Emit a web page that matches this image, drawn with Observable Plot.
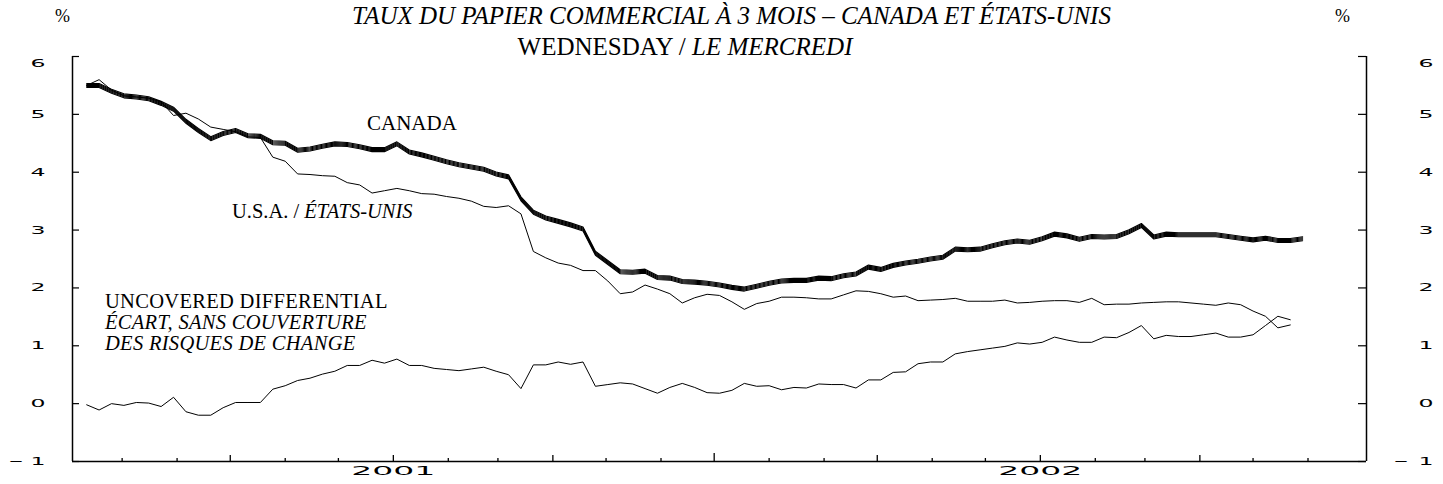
<!DOCTYPE html>
<html><head><meta charset="utf-8">
<script src="https://cdn.jsdelivr.net/npm/d3@7"></script>
<script src="https://cdn.jsdelivr.net/npm/@observablehq/plot@0.6"></script>
<style>
body{margin:0;background:#fff;}
#wrap{position:relative;width:1443px;height:484px;font-family:"Liberation Serif","Times New Roman",serif;color:#000;overflow:hidden;}
#wrap svg{position:absolute;left:0;top:0;}
.t{position:absolute;white-space:nowrap;line-height:1;}
</style></head><body>
<div id="wrap">
<div class="t" style="left:55px;top:7px;font-size:18px">%</div>
<div class="t" style="left:1335px;top:7px;font-size:18px">%</div>
<div class="t" style="left:731.5px;top:3px;font-size:25px;font-style:italic;transform:translateX(-50%)">TAUX DU PAPIER COMMERCIAL À 3 MOIS – CANADA ET ÉTATS-UNIS</div>
<div class="t" style="left:685px;top:34px;font-size:25px;transform:translateX(-50%)">WEDNESDAY / <i>LE MERCREDI</i></div>
<div class="t" style="left:367px;top:113px;font-size:21px">CANADA</div>
<div class="t" style="left:232px;top:201px;font-size:20.5px">U.S.A. / <i>ÉTATS-UNIS</i></div>
<div class="t" style="left:105px;top:291px;font-size:20.5px;letter-spacing:0.3px">UNCOVERED DIFFERENTIAL</div>
<div class="t" style="left:105px;top:312px;font-size:20.5px;letter-spacing:0.3px;font-style:italic">ÉCART, SANS COUVERTURE</div>
<div class="t" style="left:105px;top:333px;font-size:20.5px;letter-spacing:0.3px;font-style:italic">DES RISQUES DE CHANGE</div>
</div>
<script>
// Weekly (Wednesday) observations, first and last week
const firstWeek = "2000-07-12";
const lastWeek = "2002-05-29";

// Canada 3-month commercial paper rate (%)
const canada = [
 5.50,5.50,5.40,5.32,5.30,5.27,5.19,5.09,4.88,4.72,
 4.58,4.67,4.72,4.63,4.62,4.51,4.50,4.38,4.40,4.45,
 4.49,4.48,4.44,4.39,4.39,4.49,4.35,4.30,4.24,4.18,
 4.13,4.09,4.05,3.97,3.92,3.54,3.31,3.21,3.15,3.09,
 3.02,2.60,2.44,2.28,2.27,2.29,2.18,2.17,2.11,2.10,
 2.08,2.05,2.01,1.98,2.03,2.08,2.12,2.13,2.13,2.17,
 2.16,2.21,2.24,2.36,2.32,2.39,2.43,2.46,2.50,2.53,
 2.67,2.66,2.67,2.73,2.78,2.81,2.79,2.85,2.93,2.90,
 2.84,2.89,2.88,2.89,2.97,3.08,2.88,2.93,2.92,2.92,
 2.92,2.92,2.89,2.86,2.83,2.86,2.82,2.82,2.85
];

// U.S. 3-month commercial paper rate (%)
const usa = [
 5.50,5.60,5.42,5.32,5.30,5.28,5.22,4.98,5.02,4.92,
 4.78,4.74,4.70,4.61,4.60,4.26,4.19,3.97,3.96,3.94,
 3.93,3.82,3.78,3.64,3.68,3.72,3.68,3.63,3.62,3.58,
 3.55,3.50,3.41,3.39,3.42,3.28,2.63,2.52,2.43,2.39,
 2.30,2.30,2.12,1.90,1.93,2.05,1.98,1.90,1.74,1.83,
 1.89,1.87,1.76,1.63,1.73,1.77,1.84,1.84,1.83,1.81,
 1.81,1.88,1.95,1.94,1.90,1.84,1.86,1.78,1.79,1.80,
 1.82,1.77,1.77,1.77,1.79,1.74,1.75,1.77,1.78,1.78,
 1.75,1.82,1.71,1.72,1.72,1.74,1.75,1.76,1.76,1.74,
 1.72,1.70,1.74,1.71,1.60,1.51,1.31,1.36
];

// Uncovered differential (percentage points)
const differential = [
 -0.02,-0.11,0.00,-0.03,0.02,0.01,-0.05,0.11,-0.14,-0.20,
 -0.20,-0.07,0.02,0.02,0.02,0.25,0.31,0.40,0.44,0.51,
 0.56,0.66,0.66,0.75,0.70,0.77,0.66,0.66,0.61,0.59,
 0.57,0.60,0.63,0.56,0.50,0.26,0.67,0.67,0.72,0.68,
 0.72,0.30,0.33,0.36,0.34,0.26,0.18,0.28,0.35,0.28,
 0.19,0.18,0.23,0.35,0.30,0.31,0.24,0.28,0.27,0.34,
 0.33,0.33,0.27,0.41,0.41,0.54,0.55,0.69,0.72,0.72,
 0.86,0.90,0.93,0.96,0.99,1.05,1.03,1.06,1.15,1.10,
 1.06,1.06,1.15,1.14,1.23,1.35,1.12,1.18,1.16,1.16,
 1.19,1.22,1.15,1.15,1.19,1.35,1.51,1.45
];

const yTicks = [-1,0,1,2,3,4,5,6];
const yearLabels = ["2001","2002"];
const xStart = "2000-07-04";
const xEnd = "2002-07-04";

// ---- build ----
const weeks = d3.utcWednesday.range(new Date(firstWeek), d3.utcDay.offset(new Date(lastWeek), 1));
const toRows = vals => vals.map((v, i) => ({date: weeks[i], value: v}));
const canadaRows = toRows(canada), usaRows = toRows(usa), diffRows = toRows(differential);

const W = 1443, H = 484, mL = 72, mR = 77, mT = 56, mB = 23;
const fw = W - mL - mR, fh = H - mT - mB;
const x0 = new Date(xStart), x1 = new Date(xEnd);
const months = d3.utcMonth.range(new Date("2000-08-01"), new Date("2002-07-01"));
const years = yearLabels.map(y => new Date(y + "-01-01"));
const tickLen = d => d.getUTCMonth() === 6 ? 8 : (d.getUTCMonth() % 3 === 0 ? 6 : 3);

const labelFont = {fontFamily: "DejaVu Sans, Verdana, sans-serif", fontSize: 11, fill: "#000"};

const canadaStack = [-2, -1, 0, 1, 2].map(dy =>
  Plot.line(canadaRows, {x: "date", y: "value", stroke: "#000", strokeWidth: 1.1, dy}));

const chart = Plot.plot({
  width: W, height: H,
  marginLeft: mL, marginRight: mR, marginTop: mT, marginBottom: mB,
  x: {type: "utc", domain: [x0, x1], axis: null},
  y: {domain: [-1, 6], axis: null},
  style: {background: "transparent", overflow: "visible"},
  marks: [
    Plot.ruleX([x0, x1], {stroke: "#000", strokeWidth: 1.5}),
    Plot.ruleY([-1], {stroke: "#000", strokeWidth: 1.5}),
    Plot.tickY(yTicks, {y: d => d, insetRight: fw - 7, stroke: "#000", strokeWidth: 1.2}),
    Plot.tickY(yTicks, {y: d => d, insetLeft: fw - 8, stroke: "#000", strokeWidth: 1.2}),
    ...[3, 6, 8].map(len => Plot.tickX(months.filter(d => tickLen(d) === len),
      {x: d => d, insetTop: fh - len, stroke: "#000", strokeWidth: 1.3})),
    // left tick labels
    Plot.text(yTicks.filter(d => d < 6), {y: d => d, text: d => String(Math.abs(d)), frameAnchor: "left", dx: -27, textAnchor: "end", ...labelFont, ariaDescription: "ylab"}),
    Plot.text(yTicks.filter(d => d === 6), {y: d => d, text: d => String(d), frameAnchor: "left", dx: -27, dy: 7, textAnchor: "end", ...labelFont, ariaDescription: "ylab"}),
    Plot.text(yTicks.filter(d => d < 0), {y: d => d, text: () => "−", frameAnchor: "left", dx: -64, textAnchor: "start", ...labelFont, ariaDescription: "yminus"}),
    // right tick labels
    Plot.text(yTicks.filter(d => d < 6), {y: d => d, text: d => String(Math.abs(d)), frameAnchor: "right", dx: 52, textAnchor: "start", ...labelFont, ariaDescription: "ylab"}),
    Plot.text(yTicks.filter(d => d === 6), {y: d => d, text: d => String(d), frameAnchor: "right", dx: 52, dy: 7, textAnchor: "start", ...labelFont, ariaDescription: "ylab"}),
    Plot.text(yTicks.filter(d => d < 0), {y: d => d, text: () => "−", frameAnchor: "right", dx: 27, textAnchor: "start", ...labelFont, ariaDescription: "yminus"}),
    // year labels
    Plot.text(years, {x: d => d, text: d => String(d.getUTCFullYear()), frameAnchor: "bottom", dy: 13, fontFamily: labelFont.fontFamily, fontSize: 12.5, fill: "#000", ariaDescription: "xlab"}),
    // series
    Plot.line(diffRows, {x: "date", y: "value", stroke: "#000", strokeWidth: 1}),
    Plot.line(usaRows, {x: "date", y: "value", stroke: "#000", strokeWidth: 1}),
    ...canadaStack
  ]
});

const stretch = (sel, len) => chart.querySelectorAll(sel).forEach(t => {
  t.setAttribute("textLength", len); t.setAttribute("lengthAdjust", "spacingAndGlyphs");
});
stretch('g[aria-description="ylab"] text', 15);
stretch('g[aria-description="yminus"] text', 15);
stretch('g[aria-description="xlab"] text', 84);
document.getElementById("wrap").prepend(chart);
</script>
</body></html>
